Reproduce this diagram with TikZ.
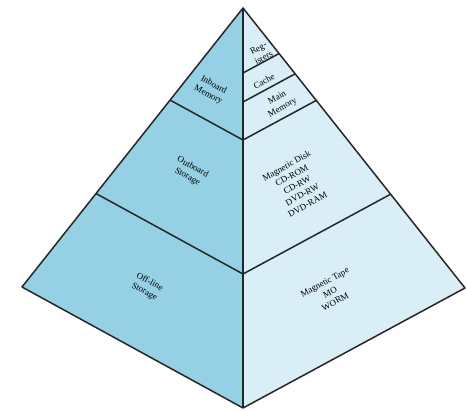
\documentclass[tikz,border=0pt]{standalone}
\usepackage{fontspec}
\setmainfont{Liberation Serif}
\usetikzlibrary{calc}
\definecolor{faceleft}{RGB}{150,208,228}
\definecolor{faceright}{RGB}{217,238,247}
\begin{document}
\begin{tikzpicture}[x=1pt,y=-1pt,
  edge/.style={draw=black!85, line width=1.5pt, line join=round},
  lefttext/.style={font=\small, align=center, inner sep=1pt, rotate=-28.6},
  righttext/.style={font=\small, align=center, inner sep=1pt, rotate=28.6}
]
  \useasboundingbox (0,0) rectangle (466,410);

  % Corners of the pyramid
  \coordinate (apex) at (243,8);
  \coordinate (left) at (22,287);
  \coordinate (front) at (243,408);
  \coordinate (right) at (465,288);

  % Faces
  \fill[faceleft] (apex) -- (left) -- (front) -- cycle;
  \fill[faceright] (apex) -- (front) -- (right) -- cycle;

  % Level points
  \foreach \t/\n in {0.1625/1, 0.235/2, 0.33/3, 0.665/4} {
    \coordinate (lv\n) at ($(apex)!\t!(left)$);
    \coordinate (fv\n) at ($(apex)!\t!(front)$);
    \coordinate (rv\n) at ($(apex)!\t!(right)$);
  }

  % Level lines
  \draw[edge] (fv1) -- (rv1);
  \draw[edge] (fv2) -- (rv2);
  \draw[edge] (lv3) -- (fv3) -- (rv3);
  \draw[edge] (lv4) -- (fv4) -- (rv4);

  % Outline
  \draw[edge] (apex) -- (left) -- (front) -- (right) -- cycle;
  \draw[edge] (apex) -- (front);

  % Left face labels
  \node[lefttext] (inboard) at (211,90) {Inboard\\Memory};
  \node[lefttext] (outboard) at (190,172) {Outboard\\Storage};
  \node[lefttext] (offline) at (147,287) {Off-line\\Storage};

  % Right face labels
  \node[righttext] (regs) at (261,53) {Reg-\\isters};
  \node[righttext] (cache) at (264,81) {Cache};
  \node[righttext] (mainmem) at (280,103) {Main\\Memory};
  \node[righttext] (disk) at (297,185) {Magnetic Disk\\CD-ROM\\CD-RW\\DVD-RW\\DVD-RAM};
  \node[righttext] (tape) at (330,292) {Magnetic Tape\\MO\\WORM};
\end{tikzpicture}
\end{document}
